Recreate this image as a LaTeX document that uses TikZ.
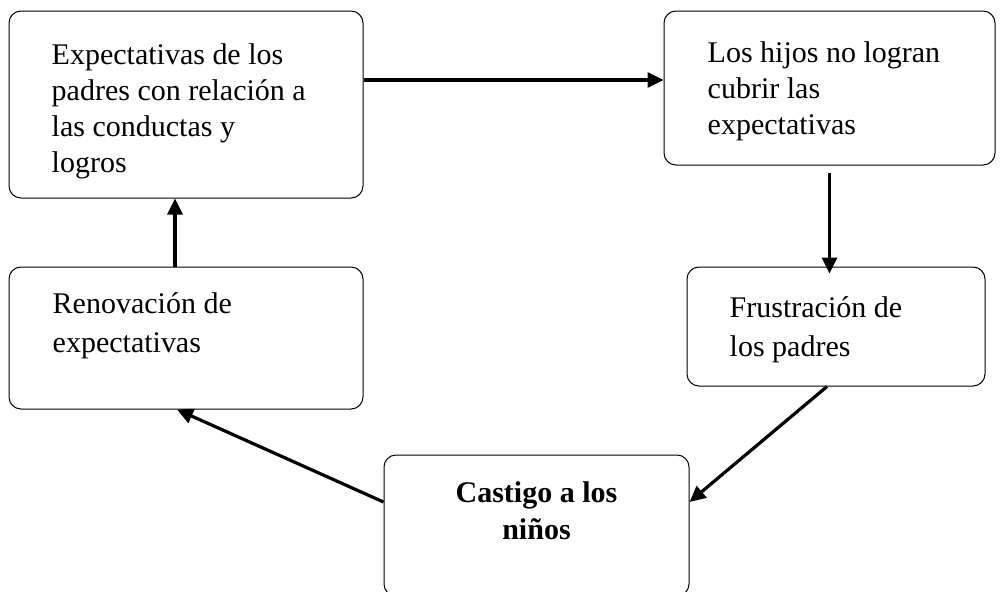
\documentclass[tikz,border=0pt]{standalone}
\usepackage{fontspec}
\setmainfont{Liberation Serif}
\usetikzlibrary{arrows.meta}
\begin{document}
\begin{tikzpicture}[x=1pt,y=-1pt,
  caja/.style={draw,line width=1pt,rounded corners=12pt,inner sep=0pt},
  txt/.style={align=left,anchor=north west,inner sep=0pt,font=\fontsize{30}{36}\selectfont},
  flecha/.style={line width=3.2pt,-{Triangle[length=16pt,width=15pt]}}]
\useasboundingbox (0,0) rectangle (1005,592);
\node [caja,minimum width=354pt,minimum height=187pt] (exp) at (186,104.5) {};
\node [caja,minimum width=331pt,minimum height=154pt] (hijos) at (829.5,88) {};
\node [caja,minimum width=298pt,minimum height=119pt] (frus) at (836,326.5) {};
\node [caja,minimum width=305pt,minimum height=141pt] (cast) at (536.5,525.5) {};
\node [caja,minimum width=354pt,minimum height=142pt] (renov) at (186,338) {};
\node [txt] (texp) at ([shift={(43,33)}]exp.north west)
  {Expectativas de los\\padres con relación a\\las conductas y\\logros};
\node [txt] (thijos) at ([shift={(44,31)}]hijos.north west)
  {Los hijos no logran\\cubrir las\\expectativas};
\node [txt,font=\fontsize{30}{39}\selectfont] (tfrus) at ([shift={(43,30)}]frus.north west)
  {Frustración de\\los padres};
\node [txt,font=\fontsize{30}{39}\selectfont] (trenov) at ([shift={(44,26)}]renov.north west)
  {Renovación de\\expectativas};
\node [align=center,anchor=north,inner sep=0pt,font=\fontsize{30}{37}\bfseries] (tcast) at ([yshift=-27pt]cast.north)
  {Castigo a los\\niños};
\draw [flecha] ([yshift=24.5pt]exp.east) -- ([yshift=24.5pt]exp.east -| hijos.west);
\draw [flecha] ([yshift=-7pt]hijos.south) -- ([yshift=-7pt]hijos.south |- frus.north);
\draw [flecha] ([xshift=-9pt]frus.south) -- ([yshift=23.5pt]cast.east);
\draw [flecha] ([yshift=23.5pt]cast.west) -- ([xshift=-9pt]renov.south);
\draw [flecha] ([xshift=-11pt]renov.north) -- ([xshift=-11pt]renov.north |- exp.south);
\end{tikzpicture}
\end{document}
